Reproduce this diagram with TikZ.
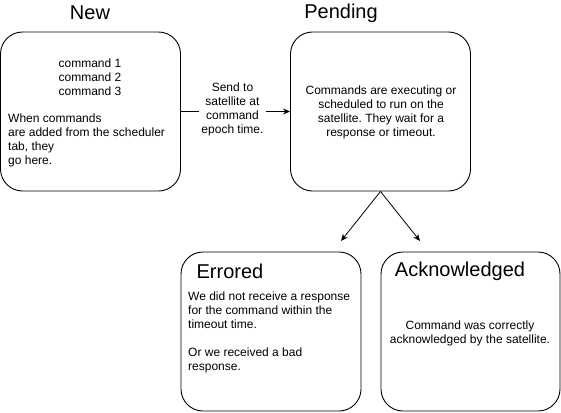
\documentclass[tikz,border=0pt]{standalone}
\usepackage{fontspec}
\setmainfont{Liberation Sans}
\frenchspacing
\usetikzlibrary{arrows.meta,positioning,calc}

\begin{document}
\begin{tikzpicture}[x=1pt, y=-1pt,
          state/.style={draw, line width=0.9pt, rounded corners=22pt, minimum width=#1, minimum height=159pt, inner sep=0pt},
          state/.default=180pt,
          title/.style={font=\fontsize{20}{24}\selectfont, inner sep=0pt},
          txt/.style={font=\fontsize{12}{14}\selectfont, inner sep=0pt},
          flow/.style={line width=0.8pt, -{Stealth[length=7pt, width=6pt]}}
        ]
          % Rahmen
          \useasboundingbox (0,0) rectangle (561,412);

          % Zustaende
          \node[state=180pt] (new) at (90.5,111.5) {};
          \node[state] (pending) at (380.5,111.5) {};
          \node[state] (errored) at (271,331.5) {};
          \node[state=179pt] (ack) at (470.5,331.5) {};

          % Titel
          \node[title] (newtitle) at (90,13) {New};
          \node[title] (pendingtitle) at (341,13) {Pending};
          \node[title] (erroredtitle) at (230,271) {Errored};
          \node[title] (acktitle) at (460,271) {Acknowledged};

          % Texte
          \node[txt, align=center] (cmds) at (90,77) {command 1\\command 2\\command 3};
          \node[txt, align=left, anchor=west] (newnote) at (8,140) {When commands\\are added from the scheduler\\tab, they\\go here.};
          \node[txt, align=center] (pendingnote) at (381,112.5) {Commands are executing or\\scheduled to run on the\\satellite. They wait for a\\response or timeout.};
          \node[txt, align=left, anchor=west] (errorednote) at (188,332.5) {We did not receive a response\\for the command within the\\timeout time.\\[14pt]Or we received a bad\\response.};
          \node[txt, align=center] (acknote) at (470,333) {Command was correctly\\acknowledged by the satellite.};

          % Uebergaenge
          \draw[flow] (new) -- (pending)
            node[midway, txt, fill=white, inner sep=2pt, align=center, xshift=-3pt, yshift=2pt] (sendlabel) {Send to\\satellite at\\command\\epoch time.};
          \coordinate (errin) at (341,241);
          \coordinate (ackin) at (420,241);
          \draw[flow] (pending.south) -- (errin);
          \draw[flow] (pending.south) -- (ackin);
        \end{tikzpicture}
\end{document}
